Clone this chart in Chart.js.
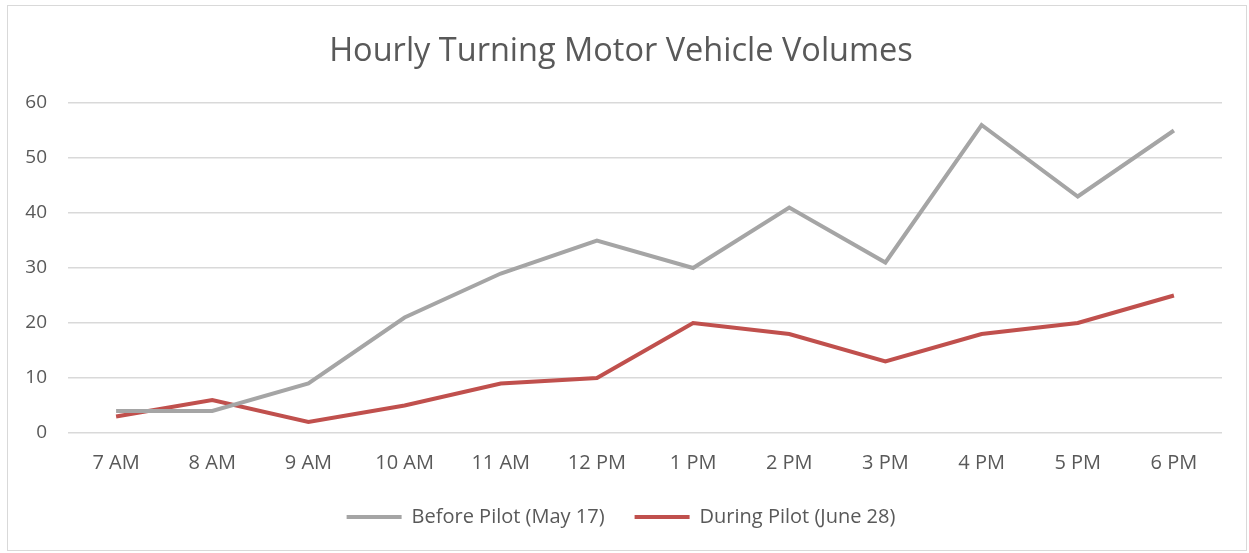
<!DOCTYPE html>
<html>
<head>
<meta charset="utf-8">
<script src="https://cdn.jsdelivr.net/npm/chart.js@4.4.1/dist/chart.umd.min.js"></script>
<style>
  html, body { margin: 0; padding: 0; background: #fff; }
  #wrap { position: absolute; left: 7px; top: 5px; width: 1240px; height: 546px; border: 1px solid #d9d9d9; box-sizing: border-box; }
  #c { position: absolute; left: 0; top: 0; }
</style>
</head>
<body>
<div id="wrap"></div>
<canvas id="c" width="1249" height="553"></canvas>
<script>
const categories = ["7 AM", "8 AM", "9 AM", "10 AM", "11 AM", "12 PM", "1 PM", "2 PM", "3 PM", "4 PM", "5 PM", "6 PM"];
const beforePilot = [4, 4, 9, 21, 29, 35, 30, 41, 31, 56, 43, 55];
const duringPilot = [3, 6, 2, 5, 9, 10, 20, 18, 13, 18, 20, 25];
const seriesNames = ["Before Pilot (May 17)", "During Pilot (June 28)"];
const yTicks = [0, 10, 20, 30, 40, 50, 60];

const FONT = "'Open Sans', 'Liberation Sans', sans-serif";
const TXT = "#595959";

new Chart(document.getElementById("c"), {
  type: "line",
  data: {
    labels: categories,
    datasets: [
      { label: seriesNames[0], data: beforePilot, borderColor: "#A5A5A5", backgroundColor: "#A5A5A5", borderWidth: 4, pointRadius: 0, tension: 0 },
      { label: seriesNames[1], data: duringPilot, borderColor: "#C0504D", backgroundColor: "#C0504D", borderWidth: 4, pointRadius: 0, tension: 0 }
    ]
  },
  options: {
    responsive: false,
    animation: false,
    layout: { padding: { left: 20, right: 27, top: 0, bottom: 16 } },
    plugins: {
      title: {
        display: true,
        text: "Hourly Turning Motor Vehicle Volumes",
        color: TXT,
        font: { family: FONT, size: 32.5, weight: "normal" },
        padding: { top: 32, bottom: 32 }
      },
      legend: {
        position: "bottom",
        labels: {
          color: TXT,
          font: { family: FONT, size: 20 },
          boxWidth: 55,
          boxHeight: 4,
          padding: 30,
          generateLabels: (chart) => Chart.defaults.plugins.legend.labels.generateLabels(chart).map(l => Object.assign(l, { lineWidth: 0 }))
        }
      },
      tooltip: { enabled: false }
    },
    scales: {
      x: {
        offset: true,
        grid: { display: false },
        border: { display: false },
        ticks: { color: TXT, font: { family: FONT, size: 20 }, padding: 10, maxRotation: 0 },
        afterFit: (s) => { s.height = 44; }
      },
      y: {
        min: 0, max: 60,
        afterBuildTicks: (s) => { s.ticks = yTicks.map(v => ({ value: v })); },
        grid: { color: "#d9d9d9", lineWidth: 1.5, drawTicks: false },
        border: { display: false },
        ticks: { color: TXT, font: { family: FONT, size: 19 }, padding: 21 },
        afterFit: (s) => { s.width = 48; }
      }
    }
  }
});
</script>
</body>
</html>
